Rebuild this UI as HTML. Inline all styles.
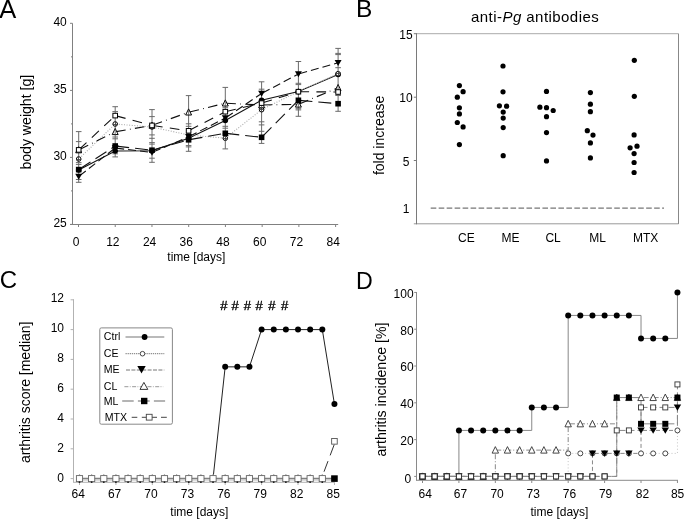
<!DOCTYPE html>
<html><head><meta charset="utf-8"><style>
html,body{margin:0;padding:0;background:#fff;}
svg{display:block;filter:grayscale(1);}
text{font-family:"Liberation Sans", sans-serif;}
</style></head><body>
<svg width="685" height="519" viewBox="0 0 685 519">
<rect width="685" height="519" fill="#fff"/>
<text x="-0.80" y="17.60" font-size="25.5" text-anchor="start" fill="#000">A</text>
<text transform="translate(30.70,122.20) rotate(-90)" font-size="14.1" text-anchor="middle" fill="#000">body weight [g]</text>
<line x1="72.50" y1="23.30" x2="72.50" y2="224.90" stroke="#808080" stroke-width="1"/>
<line x1="70.00" y1="23.30" x2="72.50" y2="23.30" stroke="#808080" stroke-width="1"/>
<text x="66.80" y="25.80" font-size="12" text-anchor="end" fill="#000">40</text>
<line x1="70.00" y1="90.40" x2="72.50" y2="90.40" stroke="#808080" stroke-width="1"/>
<text x="66.80" y="92.90" font-size="12" text-anchor="end" fill="#000">35</text>
<line x1="70.00" y1="157.40" x2="72.50" y2="157.40" stroke="#808080" stroke-width="1"/>
<text x="66.80" y="159.90" font-size="12" text-anchor="end" fill="#000">30</text>
<line x1="70.00" y1="224.40" x2="72.50" y2="224.40" stroke="#808080" stroke-width="1"/>
<text x="66.80" y="226.90" font-size="12" text-anchor="end" fill="#000">25</text>
<line x1="71.00" y1="56.85" x2="72.50" y2="56.85" stroke="#808080" stroke-width="1"/>
<line x1="71.00" y1="123.90" x2="72.50" y2="123.90" stroke="#808080" stroke-width="1"/>
<line x1="71.00" y1="190.90" x2="72.50" y2="190.90" stroke="#808080" stroke-width="1"/>
<line x1="70.00" y1="224.50" x2="338.20" y2="224.50" stroke="#808080" stroke-width="1"/>
<line x1="78.50" y1="224.50" x2="78.50" y2="227.00" stroke="#808080" stroke-width="1"/>
<text x="76.10" y="246.00" font-size="12" text-anchor="middle" fill="#000">0</text>
<line x1="115.23" y1="224.50" x2="115.23" y2="227.00" stroke="#808080" stroke-width="1"/>
<text x="112.83" y="246.00" font-size="12" text-anchor="middle" fill="#000">12</text>
<line x1="151.96" y1="224.50" x2="151.96" y2="227.00" stroke="#808080" stroke-width="1"/>
<text x="149.56" y="246.00" font-size="12" text-anchor="middle" fill="#000">24</text>
<line x1="188.69" y1="224.50" x2="188.69" y2="227.00" stroke="#808080" stroke-width="1"/>
<text x="186.29" y="246.00" font-size="12" text-anchor="middle" fill="#000">36</text>
<line x1="225.42" y1="224.50" x2="225.42" y2="227.00" stroke="#808080" stroke-width="1"/>
<text x="223.02" y="246.00" font-size="12" text-anchor="middle" fill="#000">48</text>
<line x1="262.15" y1="224.50" x2="262.15" y2="227.00" stroke="#808080" stroke-width="1"/>
<text x="259.75" y="246.00" font-size="12" text-anchor="middle" fill="#000">60</text>
<line x1="298.88" y1="224.50" x2="298.88" y2="227.00" stroke="#808080" stroke-width="1"/>
<text x="296.48" y="246.00" font-size="12" text-anchor="middle" fill="#000">72</text>
<line x1="335.61" y1="224.50" x2="335.61" y2="227.00" stroke="#808080" stroke-width="1"/>
<text x="333.21" y="246.00" font-size="12" text-anchor="middle" fill="#000">84</text>
<text x="167.30" y="261.30" font-size="12" text-anchor="start" fill="#000">time [days]</text>
<line x1="78.70" y1="131.60" x2="78.70" y2="182.30" stroke="#6a6a6a" stroke-width="1.0"/>
<line x1="75.90" y1="131.60" x2="81.50" y2="131.60" stroke="#6a6a6a" stroke-width="1.0"/>
<line x1="75.90" y1="141.60" x2="81.50" y2="141.60" stroke="#6a6a6a" stroke-width="1.0"/>
<line x1="75.90" y1="162.60" x2="81.50" y2="162.60" stroke="#6a6a6a" stroke-width="1.0"/>
<line x1="75.90" y1="164.40" x2="81.50" y2="164.40" stroke="#6a6a6a" stroke-width="1.0"/>
<line x1="75.90" y1="179.50" x2="81.50" y2="179.50" stroke="#6a6a6a" stroke-width="1.0"/>
<line x1="75.90" y1="182.30" x2="81.50" y2="182.30" stroke="#6a6a6a" stroke-width="1.0"/>
<line x1="115.20" y1="106.70" x2="115.20" y2="156.90" stroke="#6a6a6a" stroke-width="1.0"/>
<line x1="112.40" y1="106.70" x2="118.00" y2="106.70" stroke="#6a6a6a" stroke-width="1.0"/>
<line x1="112.40" y1="111.60" x2="118.00" y2="111.60" stroke="#6a6a6a" stroke-width="1.0"/>
<line x1="112.40" y1="137.00" x2="118.00" y2="137.00" stroke="#6a6a6a" stroke-width="1.0"/>
<line x1="112.40" y1="138.80" x2="118.00" y2="138.80" stroke="#6a6a6a" stroke-width="1.0"/>
<line x1="112.40" y1="153.80" x2="118.00" y2="153.80" stroke="#6a6a6a" stroke-width="1.0"/>
<line x1="112.40" y1="156.90" x2="118.00" y2="156.90" stroke="#6a6a6a" stroke-width="1.0"/>
<line x1="152.00" y1="109.60" x2="152.00" y2="162.30" stroke="#6a6a6a" stroke-width="1.0"/>
<line x1="149.20" y1="109.60" x2="154.80" y2="109.60" stroke="#6a6a6a" stroke-width="1.0"/>
<line x1="149.20" y1="116.60" x2="154.80" y2="116.60" stroke="#6a6a6a" stroke-width="1.0"/>
<line x1="149.20" y1="134.90" x2="154.80" y2="134.90" stroke="#6a6a6a" stroke-width="1.0"/>
<line x1="149.20" y1="138.30" x2="154.80" y2="138.30" stroke="#6a6a6a" stroke-width="1.0"/>
<line x1="149.20" y1="142.60" x2="154.80" y2="142.60" stroke="#6a6a6a" stroke-width="1.0"/>
<line x1="149.20" y1="144.10" x2="154.80" y2="144.10" stroke="#6a6a6a" stroke-width="1.0"/>
<line x1="149.20" y1="158.20" x2="154.80" y2="158.20" stroke="#6a6a6a" stroke-width="1.0"/>
<line x1="149.20" y1="162.30" x2="154.80" y2="162.30" stroke="#6a6a6a" stroke-width="1.0"/>
<line x1="188.60" y1="95.60" x2="188.60" y2="151.30" stroke="#6a6a6a" stroke-width="1.0"/>
<line x1="185.80" y1="95.60" x2="191.40" y2="95.60" stroke="#6a6a6a" stroke-width="1.0"/>
<line x1="185.80" y1="123.80" x2="191.40" y2="123.80" stroke="#6a6a6a" stroke-width="1.0"/>
<line x1="185.80" y1="126.30" x2="191.40" y2="126.30" stroke="#6a6a6a" stroke-width="1.0"/>
<line x1="185.80" y1="145.60" x2="191.40" y2="145.60" stroke="#6a6a6a" stroke-width="1.0"/>
<line x1="185.80" y1="146.90" x2="191.40" y2="146.90" stroke="#6a6a6a" stroke-width="1.0"/>
<line x1="185.80" y1="151.30" x2="191.40" y2="151.30" stroke="#6a6a6a" stroke-width="1.0"/>
<line x1="225.30" y1="87.40" x2="225.30" y2="148.90" stroke="#6a6a6a" stroke-width="1.0"/>
<line x1="222.50" y1="87.40" x2="228.10" y2="87.40" stroke="#6a6a6a" stroke-width="1.0"/>
<line x1="222.50" y1="107.70" x2="228.10" y2="107.70" stroke="#6a6a6a" stroke-width="1.0"/>
<line x1="222.50" y1="126.30" x2="228.10" y2="126.30" stroke="#6a6a6a" stroke-width="1.0"/>
<line x1="222.50" y1="128.20" x2="228.10" y2="128.20" stroke="#6a6a6a" stroke-width="1.0"/>
<line x1="222.50" y1="133.90" x2="228.10" y2="133.90" stroke="#6a6a6a" stroke-width="1.0"/>
<line x1="222.50" y1="148.90" x2="228.10" y2="148.90" stroke="#6a6a6a" stroke-width="1.0"/>
<line x1="261.60" y1="81.80" x2="261.60" y2="143.40" stroke="#6a6a6a" stroke-width="1.0"/>
<line x1="258.80" y1="81.80" x2="264.40" y2="81.80" stroke="#6a6a6a" stroke-width="1.0"/>
<line x1="258.80" y1="89.20" x2="264.40" y2="89.20" stroke="#6a6a6a" stroke-width="1.0"/>
<line x1="258.80" y1="121.80" x2="264.40" y2="121.80" stroke="#6a6a6a" stroke-width="1.0"/>
<line x1="258.80" y1="124.90" x2="264.40" y2="124.90" stroke="#6a6a6a" stroke-width="1.0"/>
<line x1="258.80" y1="131.30" x2="264.40" y2="131.30" stroke="#6a6a6a" stroke-width="1.0"/>
<line x1="258.80" y1="143.40" x2="264.40" y2="143.40" stroke="#6a6a6a" stroke-width="1.0"/>
<line x1="298.40" y1="61.50" x2="298.40" y2="116.30" stroke="#6a6a6a" stroke-width="1.0"/>
<line x1="295.60" y1="61.50" x2="301.20" y2="61.50" stroke="#6a6a6a" stroke-width="1.0"/>
<line x1="295.60" y1="83.30" x2="301.20" y2="83.30" stroke="#6a6a6a" stroke-width="1.0"/>
<line x1="295.60" y1="84.60" x2="301.20" y2="84.60" stroke="#6a6a6a" stroke-width="1.0"/>
<line x1="295.60" y1="108.70" x2="301.20" y2="108.70" stroke="#6a6a6a" stroke-width="1.0"/>
<line x1="295.60" y1="109.90" x2="301.20" y2="109.90" stroke="#6a6a6a" stroke-width="1.0"/>
<line x1="295.60" y1="116.30" x2="301.20" y2="116.30" stroke="#6a6a6a" stroke-width="1.0"/>
<line x1="338.10" y1="48.40" x2="338.10" y2="111.30" stroke="#6a6a6a" stroke-width="1.0"/>
<line x1="335.30" y1="48.40" x2="340.90" y2="48.40" stroke="#6a6a6a" stroke-width="1.0"/>
<line x1="335.30" y1="53.40" x2="340.90" y2="53.40" stroke="#6a6a6a" stroke-width="1.0"/>
<line x1="335.30" y1="54.60" x2="340.90" y2="54.60" stroke="#6a6a6a" stroke-width="1.0"/>
<line x1="335.30" y1="67.70" x2="340.90" y2="67.70" stroke="#6a6a6a" stroke-width="1.0"/>
<line x1="335.30" y1="95.50" x2="340.90" y2="95.50" stroke="#6a6a6a" stroke-width="1.0"/>
<line x1="335.30" y1="111.30" x2="340.90" y2="111.30" stroke="#6a6a6a" stroke-width="1.0"/>
<polyline points="78.70,170.00 115.20,151.00 152.00,150.80 188.60,138.20 225.30,120.50 261.60,100.20 298.40,91.60 338.10,74.50" fill="none" stroke="#111" stroke-width="1.1"/>
<line x1="78.70" y1="159.00" x2="115.20" y2="124.00" stroke="#aaa" stroke-width="1.1" stroke-dasharray="1,1.6" stroke-dashoffset="-1"/>
<line x1="115.20" y1="124.00" x2="152.00" y2="127.00" stroke="#aaa" stroke-width="1.1" stroke-dasharray="1,1.6" stroke-dashoffset="-1"/>
<line x1="152.00" y1="127.00" x2="188.60" y2="135.00" stroke="#aaa" stroke-width="1.1" stroke-dasharray="1,1.6" stroke-dashoffset="-1"/>
<line x1="188.60" y1="135.00" x2="225.30" y2="138.20" stroke="#aaa" stroke-width="1.1" stroke-dasharray="1,1.6" stroke-dashoffset="-1"/>
<line x1="225.30" y1="138.20" x2="261.60" y2="109.70" stroke="#aaa" stroke-width="1.1" stroke-dasharray="1,1.6" stroke-dashoffset="-1"/>
<line x1="261.60" y1="109.70" x2="298.40" y2="91.50" stroke="#aaa" stroke-width="1.1" stroke-dasharray="1,1.6" stroke-dashoffset="-1"/>
<line x1="298.40" y1="91.50" x2="338.10" y2="73.70" stroke="#aaa" stroke-width="1.1" stroke-dasharray="1,1.6" stroke-dashoffset="-1"/>
<line x1="78.70" y1="176.50" x2="115.20" y2="148.00" stroke="#111" stroke-width="1.1" stroke-dasharray="8,4" stroke-dashoffset="-1"/>
<line x1="115.20" y1="148.00" x2="152.00" y2="152.50" stroke="#111" stroke-width="1.1" stroke-dasharray="8,4" stroke-dashoffset="-1"/>
<line x1="152.00" y1="152.50" x2="188.60" y2="136.80" stroke="#111" stroke-width="1.1" stroke-dasharray="8,4" stroke-dashoffset="-1"/>
<line x1="188.60" y1="136.80" x2="225.30" y2="118.00" stroke="#111" stroke-width="1.1" stroke-dasharray="8,4" stroke-dashoffset="-1"/>
<line x1="225.30" y1="118.00" x2="261.60" y2="93.50" stroke="#111" stroke-width="1.1" stroke-dasharray="8,4" stroke-dashoffset="-1"/>
<line x1="261.60" y1="93.50" x2="298.40" y2="74.00" stroke="#111" stroke-width="1.1" stroke-dasharray="8,4" stroke-dashoffset="-1"/>
<line x1="298.40" y1="74.00" x2="338.10" y2="62.80" stroke="#111" stroke-width="1.1" stroke-dasharray="8,4" stroke-dashoffset="-1"/>
<line x1="78.70" y1="150.00" x2="115.20" y2="131.80" stroke="#111" stroke-width="1.1" stroke-dasharray="9.6,4.3,0.8,4.3" stroke-dashoffset="-1"/>
<line x1="115.20" y1="131.80" x2="152.00" y2="125.40" stroke="#111" stroke-width="1.1" stroke-dasharray="9.6,4.3,0.8,4.3" stroke-dashoffset="-1"/>
<line x1="152.00" y1="125.40" x2="188.60" y2="112.20" stroke="#111" stroke-width="1.1" stroke-dasharray="9.6,4.3,0.8,4.3" stroke-dashoffset="-1"/>
<line x1="188.60" y1="112.20" x2="225.30" y2="103.20" stroke="#111" stroke-width="1.1" stroke-dasharray="9.6,4.3,0.8,4.3" stroke-dashoffset="-1"/>
<line x1="225.30" y1="103.20" x2="261.60" y2="105.00" stroke="#111" stroke-width="1.1" stroke-dasharray="9.6,4.3,0.8,4.3" stroke-dashoffset="-1"/>
<line x1="261.60" y1="105.00" x2="298.40" y2="104.30" stroke="#111" stroke-width="1.1" stroke-dasharray="9.6,4.3,0.8,4.3" stroke-dashoffset="-1"/>
<line x1="298.40" y1="104.30" x2="338.10" y2="87.80" stroke="#111" stroke-width="1.1" stroke-dasharray="9.6,4.3,0.8,4.3" stroke-dashoffset="-1"/>
<line x1="78.70" y1="169.60" x2="115.20" y2="146.00" stroke="#111" stroke-width="1.1" stroke-dasharray="13,6" stroke-dashoffset="-1"/>
<line x1="115.20" y1="146.00" x2="152.00" y2="150.20" stroke="#111" stroke-width="1.1" stroke-dasharray="13,6" stroke-dashoffset="-1"/>
<line x1="152.00" y1="150.20" x2="188.60" y2="139.80" stroke="#111" stroke-width="1.1" stroke-dasharray="13,6" stroke-dashoffset="-1"/>
<line x1="188.60" y1="139.80" x2="225.30" y2="133.30" stroke="#111" stroke-width="1.1" stroke-dasharray="13,6" stroke-dashoffset="-1"/>
<line x1="225.30" y1="133.30" x2="261.60" y2="137.30" stroke="#111" stroke-width="1.1" stroke-dasharray="13,6" stroke-dashoffset="-1"/>
<line x1="261.60" y1="137.30" x2="298.40" y2="100.30" stroke="#111" stroke-width="1.1" stroke-dasharray="13,6" stroke-dashoffset="-1"/>
<line x1="298.40" y1="100.30" x2="338.10" y2="103.70" stroke="#111" stroke-width="1.1" stroke-dasharray="13,6" stroke-dashoffset="-1"/>
<line x1="78.70" y1="149.90" x2="115.20" y2="115.60" stroke="#111" stroke-width="1.1" stroke-dasharray="9.7,7.3" stroke-dashoffset="-1"/>
<line x1="115.20" y1="115.60" x2="152.00" y2="125.40" stroke="#111" stroke-width="1.1" stroke-dasharray="9.7,7.3" stroke-dashoffset="-1"/>
<line x1="152.00" y1="125.40" x2="188.60" y2="130.80" stroke="#111" stroke-width="1.1" stroke-dasharray="9.7,7.3" stroke-dashoffset="-1"/>
<line x1="188.60" y1="130.80" x2="225.30" y2="111.70" stroke="#111" stroke-width="1.1" stroke-dasharray="9.7,7.3" stroke-dashoffset="-1"/>
<line x1="225.30" y1="111.70" x2="261.60" y2="103.10" stroke="#111" stroke-width="1.1" stroke-dasharray="9.7,7.3" stroke-dashoffset="-1"/>
<line x1="261.60" y1="103.10" x2="298.40" y2="91.70" stroke="#111" stroke-width="1.1" stroke-dasharray="9.7,7.3" stroke-dashoffset="-1"/>
<line x1="298.40" y1="91.70" x2="338.10" y2="92.00" stroke="#111" stroke-width="1.1" stroke-dasharray="9.7,7.3" stroke-dashoffset="-1"/>
<circle cx="78.70" cy="170.00" r="2.80" fill="#000"/>
<circle cx="115.20" cy="151.00" r="2.80" fill="#000"/>
<circle cx="152.00" cy="150.80" r="2.80" fill="#000"/>
<circle cx="188.60" cy="138.20" r="2.80" fill="#000"/>
<circle cx="225.30" cy="120.50" r="2.80" fill="#000"/>
<circle cx="261.60" cy="100.20" r="2.80" fill="#000"/>
<circle cx="298.40" cy="91.60" r="2.80" fill="#000"/>
<circle cx="338.10" cy="74.50" r="2.80" fill="#000"/>
<circle cx="78.70" cy="159.00" r="2.30" fill="#fff" stroke="#000" stroke-width="1.0"/>
<line x1="78.50" y1="156.50" x2="78.50" y2="161.50" stroke="#444" stroke-width="0.9"/>
<line x1="76.20" y1="159.50" x2="81.20" y2="159.50" stroke="#444" stroke-width="0.9"/>
<circle cx="115.20" cy="124.00" r="2.30" fill="#fff" stroke="#000" stroke-width="1.0"/>
<line x1="115.50" y1="121.50" x2="115.50" y2="126.50" stroke="#444" stroke-width="0.9"/>
<line x1="112.70" y1="124.50" x2="117.70" y2="124.50" stroke="#444" stroke-width="0.9"/>
<circle cx="152.00" cy="127.00" r="2.30" fill="#fff" stroke="#000" stroke-width="1.0"/>
<line x1="152.50" y1="124.50" x2="152.50" y2="129.50" stroke="#444" stroke-width="0.9"/>
<line x1="149.50" y1="127.50" x2="154.50" y2="127.50" stroke="#444" stroke-width="0.9"/>
<circle cx="188.60" cy="135.00" r="2.30" fill="#fff" stroke="#000" stroke-width="1.0"/>
<line x1="188.50" y1="132.50" x2="188.50" y2="137.50" stroke="#444" stroke-width="0.9"/>
<line x1="186.10" y1="135.50" x2="191.10" y2="135.50" stroke="#444" stroke-width="0.9"/>
<circle cx="225.30" cy="138.20" r="2.30" fill="#fff" stroke="#000" stroke-width="1.0"/>
<line x1="225.50" y1="135.70" x2="225.50" y2="140.70" stroke="#444" stroke-width="0.9"/>
<line x1="222.80" y1="138.50" x2="227.80" y2="138.50" stroke="#444" stroke-width="0.9"/>
<circle cx="261.60" cy="109.70" r="2.30" fill="#fff" stroke="#000" stroke-width="1.0"/>
<line x1="261.50" y1="107.20" x2="261.50" y2="112.20" stroke="#444" stroke-width="0.9"/>
<line x1="259.10" y1="109.50" x2="264.10" y2="109.50" stroke="#444" stroke-width="0.9"/>
<circle cx="298.40" cy="91.50" r="2.30" fill="#fff" stroke="#000" stroke-width="1.0"/>
<line x1="298.50" y1="89.00" x2="298.50" y2="94.00" stroke="#444" stroke-width="0.9"/>
<line x1="295.90" y1="91.50" x2="300.90" y2="91.50" stroke="#444" stroke-width="0.9"/>
<circle cx="338.10" cy="73.70" r="2.30" fill="#fff" stroke="#000" stroke-width="1.0"/>
<line x1="338.50" y1="71.20" x2="338.50" y2="76.20" stroke="#444" stroke-width="0.9"/>
<line x1="335.60" y1="73.50" x2="340.60" y2="73.50" stroke="#444" stroke-width="0.9"/>
<polygon points="75.23,173.70 82.17,173.70 78.70,179.70" fill="#000"/>
<polygon points="111.73,145.20 118.67,145.20 115.20,151.20" fill="#000"/>
<polygon points="148.53,149.70 155.47,149.70 152.00,155.70" fill="#000"/>
<polygon points="185.13,134.00 192.07,134.00 188.60,140.00" fill="#000"/>
<polygon points="221.83,115.20 228.77,115.20 225.30,121.20" fill="#000"/>
<polygon points="258.13,90.70 265.07,90.70 261.60,96.70" fill="#000"/>
<polygon points="294.93,71.20 301.87,71.20 298.40,77.20" fill="#000"/>
<polygon points="334.63,60.00 341.57,60.00 338.10,66.00" fill="#000"/>
<polygon points="75.73,152.80 81.67,152.80 78.70,146.70" fill="#fff" stroke="#000" stroke-width="1.0" stroke-linejoin="miter"/>
<line x1="78.70" y1="147.50" x2="78.70" y2="153.00" stroke="#555" stroke-width="0.8"/>
<polygon points="112.23,134.60 118.17,134.60 115.20,128.50" fill="#fff" stroke="#000" stroke-width="1.0" stroke-linejoin="miter"/>
<line x1="115.20" y1="129.30" x2="115.20" y2="134.80" stroke="#555" stroke-width="0.8"/>
<polygon points="149.03,128.20 154.97,128.20 152.00,122.10" fill="#fff" stroke="#000" stroke-width="1.0" stroke-linejoin="miter"/>
<line x1="152.00" y1="122.90" x2="152.00" y2="128.40" stroke="#555" stroke-width="0.8"/>
<polygon points="185.63,115.00 191.57,115.00 188.60,108.90" fill="#fff" stroke="#000" stroke-width="1.0" stroke-linejoin="miter"/>
<line x1="188.60" y1="109.70" x2="188.60" y2="115.20" stroke="#555" stroke-width="0.8"/>
<polygon points="222.33,106.00 228.27,106.00 225.30,99.90" fill="#fff" stroke="#000" stroke-width="1.0" stroke-linejoin="miter"/>
<line x1="225.30" y1="100.70" x2="225.30" y2="106.20" stroke="#555" stroke-width="0.8"/>
<polygon points="258.63,107.80 264.57,107.80 261.60,101.70" fill="#fff" stroke="#000" stroke-width="1.0" stroke-linejoin="miter"/>
<line x1="261.60" y1="102.50" x2="261.60" y2="108.00" stroke="#555" stroke-width="0.8"/>
<polygon points="295.43,107.10 301.37,107.10 298.40,101.00" fill="#fff" stroke="#000" stroke-width="1.0" stroke-linejoin="miter"/>
<line x1="298.40" y1="101.80" x2="298.40" y2="107.30" stroke="#555" stroke-width="0.8"/>
<polygon points="335.13,90.60 341.07,90.60 338.10,84.50" fill="#fff" stroke="#000" stroke-width="1.0" stroke-linejoin="miter"/>
<line x1="338.10" y1="85.30" x2="338.10" y2="90.80" stroke="#555" stroke-width="0.8"/>
<rect x="75.90" y="166.80" width="5.60" height="5.60" fill="#000"/>
<rect x="112.40" y="143.20" width="5.60" height="5.60" fill="#000"/>
<rect x="149.20" y="147.40" width="5.60" height="5.60" fill="#000"/>
<rect x="185.80" y="137.00" width="5.60" height="5.60" fill="#000"/>
<rect x="222.50" y="130.50" width="5.60" height="5.60" fill="#000"/>
<rect x="258.80" y="134.50" width="5.60" height="5.60" fill="#000"/>
<rect x="295.60" y="97.50" width="5.60" height="5.60" fill="#000"/>
<rect x="335.30" y="100.90" width="5.60" height="5.60" fill="#000"/>
<rect x="76.40" y="147.60" width="4.60" height="4.60" fill="#fff" stroke="#000" stroke-width="1.0"/>
<rect x="112.90" y="113.30" width="4.60" height="4.60" fill="#fff" stroke="#000" stroke-width="1.0"/>
<rect x="149.70" y="123.10" width="4.60" height="4.60" fill="#fff" stroke="#000" stroke-width="1.0"/>
<rect x="186.30" y="128.50" width="4.60" height="4.60" fill="#fff" stroke="#000" stroke-width="1.0"/>
<rect x="223.00" y="109.40" width="4.60" height="4.60" fill="#fff" stroke="#000" stroke-width="1.0"/>
<rect x="259.30" y="100.80" width="4.60" height="4.60" fill="#fff" stroke="#000" stroke-width="1.0"/>
<rect x="296.10" y="89.40" width="4.60" height="4.60" fill="#fff" stroke="#000" stroke-width="1.0"/>
<rect x="335.80" y="89.70" width="4.60" height="4.60" fill="#fff" stroke="#000" stroke-width="1.0"/>
<text x="356.00" y="16.90" font-size="24.5" text-anchor="start" fill="#000">B</text>
<text x="471.00" y="21.90" font-size="15" text-anchor="start" fill="#000" letter-spacing="0.45">anti-<tspan font-style="italic">Pg</tspan> antibodies</text>
<text transform="translate(383.80,135.40) rotate(-90)" font-size="14" text-anchor="middle" fill="#000">fold increase</text>
<line x1="416.50" y1="33.70" x2="678.50" y2="33.70" stroke="#aaa" stroke-width="1"/>
<line x1="678.50" y1="33.70" x2="678.50" y2="224.00" stroke="#888" stroke-width="1"/>
<line x1="413.80" y1="223.80" x2="678.50" y2="223.80" stroke="#999" stroke-width="1"/>
<line x1="416.50" y1="33.20" x2="416.50" y2="224.30" stroke="#7a7a7a" stroke-width="1"/>
<line x1="413.80" y1="33.70" x2="416.50" y2="33.70" stroke="#7a7a7a" stroke-width="1"/>
<text x="406.00" y="38.70" font-size="12" text-anchor="middle" fill="#000">15</text>
<line x1="413.80" y1="97.20" x2="416.50" y2="97.20" stroke="#7a7a7a" stroke-width="1"/>
<text x="406.00" y="102.20" font-size="12" text-anchor="middle" fill="#000">10</text>
<line x1="413.80" y1="160.50" x2="416.50" y2="160.50" stroke="#7a7a7a" stroke-width="1"/>
<text x="406.00" y="165.50" font-size="12" text-anchor="middle" fill="#000">5</text>
<text x="406.00" y="212.60" font-size="12" text-anchor="middle" fill="#000">1</text>
<line x1="430.70" y1="208.20" x2="664.00" y2="208.20" stroke="#777" stroke-width="1.3" stroke-dasharray="5.6,2.38"/>
<circle cx="459.4" cy="85.6" r="2.6" fill="#000"/>
<circle cx="463.1" cy="91.7" r="2.6" fill="#000"/>
<circle cx="457.3" cy="97.2" r="2.6" fill="#000"/>
<circle cx="459.4" cy="107.8" r="2.6" fill="#000"/>
<circle cx="459.4" cy="113.9" r="2.6" fill="#000"/>
<circle cx="457.3" cy="122.5" r="2.6" fill="#000"/>
<circle cx="463.1" cy="126.9" r="2.6" fill="#000"/>
<circle cx="459.4" cy="144.6" r="2.6" fill="#000"/>
<circle cx="503.0" cy="66.0" r="2.6" fill="#000"/>
<circle cx="503.0" cy="91.8" r="2.6" fill="#000"/>
<circle cx="499.4" cy="105.8" r="2.6" fill="#000"/>
<circle cx="506.6" cy="106.2" r="2.6" fill="#000"/>
<circle cx="503.2" cy="112.1" r="2.6" fill="#000"/>
<circle cx="503.2" cy="118.1" r="2.6" fill="#000"/>
<circle cx="503.2" cy="127.6" r="2.6" fill="#000"/>
<circle cx="503.2" cy="155.7" r="2.6" fill="#000"/>
<circle cx="546.5" cy="91.4" r="2.6" fill="#000"/>
<circle cx="539.9" cy="107.2" r="2.6" fill="#000"/>
<circle cx="546.5" cy="107.7" r="2.6" fill="#000"/>
<circle cx="553.2" cy="110.5" r="2.6" fill="#000"/>
<circle cx="546.5" cy="116.7" r="2.6" fill="#000"/>
<circle cx="546.5" cy="132.6" r="2.6" fill="#000"/>
<circle cx="546.5" cy="160.9" r="2.6" fill="#000"/>
<circle cx="590.4" cy="92.6" r="2.6" fill="#000"/>
<circle cx="590.4" cy="104.2" r="2.6" fill="#000"/>
<circle cx="590.4" cy="111.7" r="2.6" fill="#000"/>
<circle cx="587.3" cy="130.7" r="2.6" fill="#000"/>
<circle cx="593.0" cy="135.1" r="2.6" fill="#000"/>
<circle cx="590.4" cy="142.9" r="2.6" fill="#000"/>
<circle cx="590.4" cy="157.9" r="2.6" fill="#000"/>
<circle cx="634.3" cy="60.3" r="2.6" fill="#000"/>
<circle cx="634.3" cy="96.3" r="2.6" fill="#000"/>
<circle cx="634.1" cy="134.9" r="2.6" fill="#000"/>
<circle cx="630.1" cy="147.8" r="2.6" fill="#000"/>
<circle cx="637.0" cy="146.2" r="2.6" fill="#000"/>
<circle cx="634.1" cy="153.6" r="2.6" fill="#000"/>
<circle cx="634.1" cy="162.5" r="2.6" fill="#000"/>
<circle cx="634.1" cy="172.5" r="2.6" fill="#000"/>
<text x="458.00" y="242.40" font-size="12" text-anchor="start" fill="#000">CE</text>
<text x="501.60" y="242.40" font-size="12" text-anchor="start" fill="#000">ME</text>
<text x="545.40" y="242.40" font-size="12" text-anchor="start" fill="#000">CL</text>
<text x="589.20" y="242.40" font-size="12" text-anchor="start" fill="#000">ML</text>
<text x="633.00" y="242.40" font-size="12" text-anchor="start" fill="#000">MTX</text>
<text x="-0.30" y="288.30" font-size="24" text-anchor="start" fill="#000">C</text>
<text transform="translate(29.80,392.30) rotate(-90)" font-size="14.0" text-anchor="middle" fill="#000">arthritis score [median]</text>
<line x1="73.50" y1="299.20" x2="73.50" y2="482.70" stroke="#b2b2b2" stroke-width="1"/>
<line x1="70.60" y1="478.60" x2="73.50" y2="478.60" stroke="#b2b2b2" stroke-width="1"/>
<text x="64.00" y="481.50" font-size="12" text-anchor="end" fill="#000">0</text>
<line x1="70.60" y1="448.80" x2="73.50" y2="448.80" stroke="#b2b2b2" stroke-width="1"/>
<text x="64.00" y="451.60" font-size="12" text-anchor="end" fill="#000">2</text>
<line x1="70.60" y1="419.00" x2="73.50" y2="419.00" stroke="#b2b2b2" stroke-width="1"/>
<text x="64.00" y="421.70" font-size="12" text-anchor="end" fill="#000">4</text>
<line x1="70.60" y1="389.20" x2="73.50" y2="389.20" stroke="#b2b2b2" stroke-width="1"/>
<text x="64.00" y="391.80" font-size="12" text-anchor="end" fill="#000">6</text>
<line x1="70.60" y1="359.40" x2="73.50" y2="359.40" stroke="#b2b2b2" stroke-width="1"/>
<text x="64.00" y="361.90" font-size="12" text-anchor="end" fill="#000">8</text>
<line x1="70.60" y1="329.60" x2="73.50" y2="329.60" stroke="#b2b2b2" stroke-width="1"/>
<text x="64.00" y="332.00" font-size="12" text-anchor="end" fill="#000">10</text>
<line x1="70.60" y1="299.80" x2="73.50" y2="299.80" stroke="#b2b2b2" stroke-width="1"/>
<text x="64.00" y="302.10" font-size="12" text-anchor="end" fill="#000">12</text>
<line x1="73.50" y1="482.30" x2="334.80" y2="482.30" stroke="#b2b2b2" stroke-width="1"/>
<line x1="79.50" y1="482.30" x2="79.50" y2="485.00" stroke="#b2b2b2" stroke-width="1"/>
<text x="78.20" y="497.60" font-size="12" text-anchor="middle" fill="#000">64</text>
<line x1="115.92" y1="482.30" x2="115.92" y2="485.00" stroke="#b2b2b2" stroke-width="1"/>
<text x="114.62" y="497.60" font-size="12" text-anchor="middle" fill="#000">67</text>
<line x1="152.34" y1="482.30" x2="152.34" y2="485.00" stroke="#b2b2b2" stroke-width="1"/>
<text x="151.04" y="497.60" font-size="12" text-anchor="middle" fill="#000">70</text>
<line x1="188.76" y1="482.30" x2="188.76" y2="485.00" stroke="#b2b2b2" stroke-width="1"/>
<text x="187.46" y="497.60" font-size="12" text-anchor="middle" fill="#000">73</text>
<line x1="225.18" y1="482.30" x2="225.18" y2="485.00" stroke="#b2b2b2" stroke-width="1"/>
<text x="223.88" y="497.60" font-size="12" text-anchor="middle" fill="#000">76</text>
<line x1="261.60" y1="482.30" x2="261.60" y2="485.00" stroke="#b2b2b2" stroke-width="1"/>
<text x="260.30" y="497.60" font-size="12" text-anchor="middle" fill="#000">79</text>
<line x1="298.02" y1="482.30" x2="298.02" y2="485.00" stroke="#b2b2b2" stroke-width="1"/>
<text x="296.72" y="497.60" font-size="12" text-anchor="middle" fill="#000">82</text>
<line x1="334.44" y1="482.30" x2="334.44" y2="485.00" stroke="#b2b2b2" stroke-width="1"/>
<text x="333.14" y="497.60" font-size="12" text-anchor="middle" fill="#000">85</text>
<text x="170.30" y="515.60" font-size="12" text-anchor="start" fill="#000">time [days]</text>
<text x="220.30" y="310.30" font-size="13" text-anchor="start" fill="#000" stroke="#000" stroke-width="0.35">#</text>
<text x="231.60" y="310.30" font-size="13" text-anchor="start" fill="#000" stroke="#000" stroke-width="0.35">#</text>
<text x="243.70" y="310.30" font-size="13" text-anchor="start" fill="#000" stroke="#000" stroke-width="0.35">#</text>
<text x="255.40" y="310.30" font-size="13" text-anchor="start" fill="#000" stroke="#000" stroke-width="0.35">#</text>
<text x="268.20" y="310.30" font-size="13" text-anchor="start" fill="#000" stroke="#000" stroke-width="0.35">#</text>
<text x="281.10" y="310.30" font-size="13" text-anchor="start" fill="#000" stroke="#000" stroke-width="0.35">#</text>
<line x1="79.50" y1="478.50" x2="334.44" y2="478.50" stroke="#808080" stroke-width="1.3"/>
<line x1="79.50" y1="480.00" x2="334.44" y2="480.00" stroke="#bbb" stroke-width="1"/>
<polyline points="213.04,478.60 225.18,366.85 237.32,366.85 249.46,366.85 261.60,329.60 273.74,329.60 285.88,329.60 298.02,329.60 310.16,329.60 322.30,329.60 334.44,404.10" fill="none" stroke="#222" stroke-width="1"/>
<circle cx="225.18" cy="366.85" r="3.00" fill="#000"/>
<circle cx="237.32" cy="366.85" r="3.00" fill="#000"/>
<circle cx="249.46" cy="366.85" r="3.00" fill="#000"/>
<circle cx="261.60" cy="329.60" r="3.00" fill="#000"/>
<circle cx="273.74" cy="329.60" r="3.00" fill="#000"/>
<circle cx="285.88" cy="329.60" r="3.00" fill="#000"/>
<circle cx="298.02" cy="329.60" r="3.00" fill="#000"/>
<circle cx="310.16" cy="329.60" r="3.00" fill="#000"/>
<circle cx="322.30" cy="329.60" r="3.00" fill="#000"/>
<circle cx="334.44" cy="404.10" r="3.00" fill="#000"/>
<line x1="334.24" y1="444.55" x2="322.70" y2="475.20" stroke="#333" stroke-width="1" stroke-dasharray="11.6,6.1,11.3,10"/>
<polygon points="76.50,480.50 82.50,480.50 79.50,474.30" fill="#fff" stroke="#999" stroke-width="0.8"/>
<rect x="76.40" y="475.6" width="6.2" height="6.0" fill="#fff" stroke="#666" stroke-width="0.9"/>
<circle cx="79.50" cy="482.20" r="0.9" fill="#222"/>
<polygon points="88.64,480.50 94.64,480.50 91.64,474.30" fill="#fff" stroke="#999" stroke-width="0.8"/>
<rect x="88.54" y="475.6" width="6.2" height="6.0" fill="#fff" stroke="#666" stroke-width="0.9"/>
<circle cx="91.64" cy="482.20" r="0.9" fill="#222"/>
<polygon points="100.78,480.50 106.78,480.50 103.78,474.30" fill="#fff" stroke="#999" stroke-width="0.8"/>
<rect x="100.68" y="475.6" width="6.2" height="6.0" fill="#fff" stroke="#666" stroke-width="0.9"/>
<circle cx="103.78" cy="482.20" r="0.9" fill="#222"/>
<polygon points="112.92,480.50 118.92,480.50 115.92,474.30" fill="#fff" stroke="#999" stroke-width="0.8"/>
<rect x="112.82" y="475.6" width="6.2" height="6.0" fill="#fff" stroke="#666" stroke-width="0.9"/>
<circle cx="115.92" cy="482.20" r="0.9" fill="#222"/>
<polygon points="125.06,480.50 131.06,480.50 128.06,474.30" fill="#fff" stroke="#999" stroke-width="0.8"/>
<rect x="124.96" y="475.6" width="6.2" height="6.0" fill="#fff" stroke="#666" stroke-width="0.9"/>
<circle cx="128.06" cy="482.20" r="0.9" fill="#222"/>
<polygon points="137.20,480.50 143.20,480.50 140.20,474.30" fill="#fff" stroke="#999" stroke-width="0.8"/>
<rect x="137.10" y="475.6" width="6.2" height="6.0" fill="#fff" stroke="#666" stroke-width="0.9"/>
<circle cx="140.20" cy="482.20" r="0.9" fill="#222"/>
<polygon points="149.34,480.50 155.34,480.50 152.34,474.30" fill="#fff" stroke="#999" stroke-width="0.8"/>
<rect x="149.24" y="475.6" width="6.2" height="6.0" fill="#fff" stroke="#666" stroke-width="0.9"/>
<circle cx="152.34" cy="482.20" r="0.9" fill="#222"/>
<polygon points="161.48,480.50 167.48,480.50 164.48,474.30" fill="#fff" stroke="#999" stroke-width="0.8"/>
<rect x="161.38" y="475.6" width="6.2" height="6.0" fill="#fff" stroke="#666" stroke-width="0.9"/>
<circle cx="164.48" cy="482.20" r="0.9" fill="#222"/>
<polygon points="173.62,480.50 179.62,480.50 176.62,474.30" fill="#fff" stroke="#999" stroke-width="0.8"/>
<rect x="173.52" y="475.6" width="6.2" height="6.0" fill="#fff" stroke="#666" stroke-width="0.9"/>
<circle cx="176.62" cy="482.20" r="0.9" fill="#222"/>
<polygon points="185.76,480.50 191.76,480.50 188.76,474.30" fill="#fff" stroke="#999" stroke-width="0.8"/>
<rect x="185.66" y="475.6" width="6.2" height="6.0" fill="#fff" stroke="#666" stroke-width="0.9"/>
<circle cx="188.76" cy="482.20" r="0.9" fill="#222"/>
<polygon points="197.90,480.50 203.90,480.50 200.90,474.30" fill="#fff" stroke="#999" stroke-width="0.8"/>
<rect x="197.80" y="475.6" width="6.2" height="6.0" fill="#fff" stroke="#666" stroke-width="0.9"/>
<circle cx="200.90" cy="482.20" r="0.9" fill="#222"/>
<polygon points="210.04,480.50 216.04,480.50 213.04,474.30" fill="#fff" stroke="#999" stroke-width="0.8"/>
<rect x="209.94" y="475.6" width="6.2" height="6.0" fill="#fff" stroke="#666" stroke-width="0.9"/>
<circle cx="213.04" cy="482.20" r="0.9" fill="#222"/>
<polygon points="222.18,480.50 228.18,480.50 225.18,474.30" fill="#fff" stroke="#999" stroke-width="0.8"/>
<rect x="222.08" y="475.6" width="6.2" height="6.0" fill="#fff" stroke="#666" stroke-width="0.9"/>
<circle cx="225.18" cy="482.20" r="0.9" fill="#222"/>
<polygon points="234.32,480.50 240.32,480.50 237.32,474.30" fill="#fff" stroke="#999" stroke-width="0.8"/>
<rect x="234.22" y="475.6" width="6.2" height="6.0" fill="#fff" stroke="#666" stroke-width="0.9"/>
<circle cx="237.32" cy="482.20" r="0.9" fill="#222"/>
<polygon points="246.46,480.50 252.46,480.50 249.46,474.30" fill="#fff" stroke="#999" stroke-width="0.8"/>
<rect x="246.36" y="475.6" width="6.2" height="6.0" fill="#fff" stroke="#666" stroke-width="0.9"/>
<circle cx="249.46" cy="482.20" r="0.9" fill="#222"/>
<polygon points="258.60,480.50 264.60,480.50 261.60,474.30" fill="#fff" stroke="#999" stroke-width="0.8"/>
<rect x="258.50" y="475.6" width="6.2" height="6.0" fill="#fff" stroke="#666" stroke-width="0.9"/>
<circle cx="261.60" cy="482.20" r="0.9" fill="#222"/>
<polygon points="270.74,480.50 276.74,480.50 273.74,474.30" fill="#fff" stroke="#999" stroke-width="0.8"/>
<rect x="270.64" y="475.6" width="6.2" height="6.0" fill="#fff" stroke="#666" stroke-width="0.9"/>
<circle cx="273.74" cy="482.20" r="0.9" fill="#222"/>
<polygon points="282.88,480.50 288.88,480.50 285.88,474.30" fill="#fff" stroke="#999" stroke-width="0.8"/>
<rect x="282.78" y="475.6" width="6.2" height="6.0" fill="#fff" stroke="#666" stroke-width="0.9"/>
<circle cx="285.88" cy="482.20" r="0.9" fill="#222"/>
<polygon points="295.02,480.50 301.02,480.50 298.02,474.30" fill="#fff" stroke="#999" stroke-width="0.8"/>
<rect x="294.92" y="475.6" width="6.2" height="6.0" fill="#fff" stroke="#666" stroke-width="0.9"/>
<circle cx="298.02" cy="482.20" r="0.9" fill="#222"/>
<polygon points="307.16,480.50 313.16,480.50 310.16,474.30" fill="#fff" stroke="#999" stroke-width="0.8"/>
<rect x="307.06" y="475.6" width="6.2" height="6.0" fill="#fff" stroke="#666" stroke-width="0.9"/>
<circle cx="310.16" cy="482.20" r="0.9" fill="#222"/>
<polygon points="319.30,480.50 325.30,480.50 322.30,474.30" fill="#fff" stroke="#999" stroke-width="0.8"/>
<rect x="319.20" y="475.6" width="6.2" height="6.0" fill="#fff" stroke="#666" stroke-width="0.9"/>
<circle cx="322.30" cy="482.20" r="0.9" fill="#222"/>
<rect x="331.14" y="475.30" width="6.60" height="6.60" fill="#000"/>
<rect x="331.64" y="438.55" width="5.60" height="5.60" fill="#fff" stroke="#555" stroke-width="0.9"/>
<rect x="99.8" y="327.9" width="72.6" height="96.3" rx="1.5" fill="#fff" stroke="#888" stroke-width="1"/>
<text x="103.80" y="340.40" font-size="10.6" text-anchor="start" fill="#000">Ctrl</text>
<line x1="125.50" y1="337.00" x2="164.30" y2="337.00" stroke="#777" stroke-width="1.1"/>
<circle cx="144.60" cy="337.00" r="2.90" fill="#000"/>
<text x="103.80" y="357.00" font-size="10.6" text-anchor="start" fill="#000">CE</text>
<line x1="125.50" y1="353.70" x2="164.30" y2="353.70" stroke="#777" stroke-width="1.0" stroke-dasharray="1.3,0.8"/>
<circle cx="142.50" cy="353.70" r="2.30" fill="#fff" stroke="#333" stroke-width="0.9"/>
<text x="103.80" y="373.40" font-size="10.6" text-anchor="start" fill="#000">ME</text>
<line x1="126.00" y1="370.00" x2="164.30" y2="370.00" stroke="#777" stroke-width="1.0" stroke-dasharray="4,1.4"/>
<polygon points="137.3,366.0 145.7,366.0 141.5,373.5" fill="#000"/>
<text x="103.80" y="390.40" font-size="10.6" text-anchor="start" fill="#000">CL</text>
<line x1="124.40" y1="386.70" x2="163.20" y2="386.70" stroke="#999" stroke-width="1.0" stroke-dasharray="4,1.4,0.8,1.5"/>
<polygon points="140.0,389.4 147.8,389.4 143.9,382.4" fill="#fff" stroke="#222" stroke-width="0.9"/>
<text x="103.80" y="404.80" font-size="10.6" text-anchor="start" fill="#000">ML</text>
<line x1="122.20" y1="401.00" x2="133.70" y2="401.00" stroke="#777" stroke-width="1.1"/>
<line x1="137.90" y1="401.00" x2="149.70" y2="401.00" stroke="#777" stroke-width="1.1"/>
<line x1="153.90" y1="401.00" x2="165.10" y2="401.00" stroke="#777" stroke-width="1.1"/>
<rect x="141.0" y="397.8" width="6.4" height="6.4" fill="#000"/>
<text x="104.80" y="420.90" font-size="10.6" text-anchor="start" fill="#000">MTX</text>
<line x1="131.70" y1="417.30" x2="137.30" y2="417.30" stroke="#444" stroke-width="1.0"/>
<line x1="141.80" y1="417.30" x2="157.00" y2="417.30" stroke="#444" stroke-width="1.0"/>
<line x1="161.00" y1="417.30" x2="166.80" y2="417.30" stroke="#444" stroke-width="1.0"/>
<rect x="146.3" y="414.3" width="5.8" height="5.8" fill="#fff" stroke="#444" stroke-width="0.9"/>
<text x="355.90" y="288.60" font-size="23.2" text-anchor="start" fill="#000">D</text>
<text transform="translate(385.60,389.60) rotate(-90)" font-size="14.1" text-anchor="middle" fill="#000">arthritis incidence [%]</text>
<line x1="416.50" y1="292.00" x2="416.50" y2="480.80" stroke="#8a8a8a" stroke-width="1"/>
<line x1="414.20" y1="476.40" x2="416.50" y2="476.40" stroke="#8a8a8a" stroke-width="1"/>
<text x="411.20" y="483.40" font-size="12" text-anchor="end" fill="#000">0</text>
<line x1="414.20" y1="439.61" x2="416.50" y2="439.61" stroke="#8a8a8a" stroke-width="1"/>
<text x="413.60" y="445.01" font-size="12" text-anchor="end" fill="#000">20</text>
<line x1="414.20" y1="402.82" x2="416.50" y2="402.82" stroke="#8a8a8a" stroke-width="1"/>
<text x="413.60" y="408.22" font-size="12" text-anchor="end" fill="#000">40</text>
<line x1="414.20" y1="366.02" x2="416.50" y2="366.02" stroke="#8a8a8a" stroke-width="1"/>
<text x="413.60" y="371.42" font-size="12" text-anchor="end" fill="#000">60</text>
<line x1="414.20" y1="329.23" x2="416.50" y2="329.23" stroke="#8a8a8a" stroke-width="1"/>
<text x="413.60" y="334.63" font-size="12" text-anchor="end" fill="#000">80</text>
<line x1="414.20" y1="292.44" x2="416.50" y2="292.44" stroke="#8a8a8a" stroke-width="1"/>
<text x="413.60" y="297.84" font-size="12" text-anchor="end" fill="#000">100</text>
<line x1="416.50" y1="480.30" x2="678.00" y2="480.30" stroke="#8a8a8a" stroke-width="1"/>
<line x1="422.50" y1="480.30" x2="422.50" y2="483.00" stroke="#8a8a8a" stroke-width="1"/>
<text x="425.20" y="497.80" font-size="12" text-anchor="middle" fill="#000">64</text>
<line x1="458.92" y1="480.30" x2="458.92" y2="483.00" stroke="#8a8a8a" stroke-width="1"/>
<text x="460.40" y="497.80" font-size="12" text-anchor="middle" fill="#000">67</text>
<line x1="495.34" y1="480.30" x2="495.34" y2="483.00" stroke="#8a8a8a" stroke-width="1"/>
<text x="497.10" y="497.80" font-size="12" text-anchor="middle" fill="#000">70</text>
<line x1="531.76" y1="480.30" x2="531.76" y2="483.00" stroke="#8a8a8a" stroke-width="1"/>
<text x="533.30" y="497.80" font-size="12" text-anchor="middle" fill="#000">73</text>
<line x1="568.18" y1="480.30" x2="568.18" y2="483.00" stroke="#8a8a8a" stroke-width="1"/>
<text x="569.50" y="497.80" font-size="12" text-anchor="middle" fill="#000">76</text>
<line x1="604.60" y1="480.30" x2="604.60" y2="483.00" stroke="#8a8a8a" stroke-width="1"/>
<text x="605.60" y="497.80" font-size="12" text-anchor="middle" fill="#000">79</text>
<line x1="641.02" y1="480.30" x2="641.02" y2="483.00" stroke="#8a8a8a" stroke-width="1"/>
<text x="642.40" y="497.80" font-size="12" text-anchor="middle" fill="#000">82</text>
<line x1="677.44" y1="480.30" x2="677.44" y2="483.00" stroke="#8a8a8a" stroke-width="1"/>
<text x="677.60" y="497.80" font-size="12" text-anchor="middle" fill="#000">85</text>
<text x="530.40" y="515.90" font-size="12" text-anchor="start" fill="#000">time [days]</text>
<polyline points="422.50,476.40 434.64,476.40 434.64,476.40 446.78,476.40 446.78,476.40 458.92,476.40 458.92,430.41 471.06,430.41 471.06,430.41 483.20,430.41 483.20,430.41 495.34,430.41 495.34,430.41 507.48,430.41 507.48,430.41 519.62,430.41 519.62,430.41 531.76,430.41 531.76,407.41 543.90,407.41 543.90,407.41 556.04,407.41 556.04,407.41 568.18,407.41 568.18,315.43 580.32,315.43 580.32,315.43 592.46,315.43 592.46,315.43 604.60,315.43 604.60,315.43 616.74,315.43 616.74,315.43 628.88,315.43 628.88,315.43 641.02,315.43 641.02,338.43 653.16,338.43 653.16,338.43 665.30,338.43 665.30,338.43 677.44,338.43 677.44,292.44" fill="none" stroke="#888" stroke-width="1"/>
<polyline points="422.50,476.40 434.64,476.40 434.64,476.40 446.78,476.40 446.78,476.40 458.92,476.40 458.92,476.40 471.06,476.40 471.06,476.40 483.20,476.40 483.20,476.40 495.34,476.40 495.34,476.40 507.48,476.40 507.48,476.40 519.62,476.40 519.62,476.40 531.76,476.40 531.76,476.40 543.90,476.40 543.90,476.40 556.04,476.40 556.04,476.40 568.18,476.40 568.18,453.40 580.32,453.40 580.32,453.40 592.46,453.40 592.46,453.40 604.60,453.40 604.60,453.40 616.74,453.40 616.74,453.40 628.88,453.40 628.88,453.40 641.02,453.40 641.02,453.40 653.16,453.40 653.16,453.40 665.30,453.40 665.30,453.40 677.44,453.40 677.44,430.41" fill="none" stroke="#c4c4c4" stroke-width="1" stroke-dasharray="1,2.2"/>
<polyline points="422.50,476.40 434.64,476.40 434.64,476.40 446.78,476.40 446.78,476.40 458.92,476.40 458.92,476.40 471.06,476.40 471.06,476.40 483.20,476.40 483.20,476.40 495.34,476.40 495.34,476.40 507.48,476.40 507.48,476.40 519.62,476.40 519.62,476.40 531.76,476.40 531.76,476.40 543.90,476.40 543.90,476.40 556.04,476.40 556.04,476.40 568.18,476.40 568.18,476.40 580.32,476.40 580.32,476.40 592.46,476.40 592.46,453.40 604.60,453.40 604.60,453.40 616.74,453.40 616.74,453.40 628.88,453.40 628.88,453.40 641.02,453.40 641.02,430.41 653.16,430.41 653.16,430.41 665.30,430.41 665.30,430.41 677.44,430.41 677.44,407.41" fill="none" stroke="#888" stroke-width="1" stroke-dasharray="4,2.5"/>
<polyline points="422.50,476.40 434.64,476.40 434.64,476.40 446.78,476.40 446.78,476.40 458.92,476.40 458.92,476.40 471.06,476.40 471.06,476.40 483.20,476.40 483.20,476.40 495.34,476.40 495.34,450.12 507.48,450.12 507.48,450.12 519.62,450.12 519.62,450.12 531.76,450.12 531.76,450.12 543.90,450.12 543.90,450.12 556.04,450.12 556.04,450.12 568.18,450.12 568.18,423.84 580.32,423.84 580.32,423.84 592.46,423.84 592.46,423.84 604.60,423.84 604.60,423.84 616.74,423.84 616.74,397.56 628.88,397.56 628.88,397.56 641.02,397.56 641.02,397.56 653.16,397.56 653.16,397.56 665.30,397.56 665.30,397.56 677.44,397.56 677.44,397.56" fill="none" stroke="#888" stroke-width="1" stroke-dasharray="5,2,1,2"/>
<polyline points="422.50,476.40 434.64,476.40 434.64,476.40 446.78,476.40 446.78,476.40 458.92,476.40 458.92,476.40 471.06,476.40 471.06,476.40 483.20,476.40 483.20,476.40 495.34,476.40 495.34,476.40 507.48,476.40 507.48,476.40 519.62,476.40 519.62,476.40 531.76,476.40 531.76,476.40 543.90,476.40 543.90,476.40 556.04,476.40 556.04,476.40 568.18,476.40 568.18,476.40 580.32,476.40 580.32,476.40 592.46,476.40 592.46,476.40 604.60,476.40 604.60,476.40 616.74,476.40 616.74,397.56 628.88,397.56 628.88,397.56 641.02,397.56 641.02,423.84 653.16,423.84 653.16,423.84 665.30,423.84 665.30,423.84 677.44,423.84 677.44,397.56" fill="none" stroke="#888" stroke-width="1" stroke-dasharray="9,3"/>
<polyline points="422.50,476.40 434.64,476.40 434.64,476.40 446.78,476.40 446.78,476.40 458.92,476.40 458.92,476.40 471.06,476.40 471.06,476.40 483.20,476.40 483.20,476.40 495.34,476.40 495.34,476.40 507.48,476.40 507.48,476.40 519.62,476.40 519.62,476.40 531.76,476.40 531.76,476.40 543.90,476.40 543.90,476.40 556.04,476.40 556.04,476.40 568.18,476.40 568.18,476.40 580.32,476.40 580.32,476.40 592.46,476.40 592.46,476.40 604.60,476.40 604.60,476.40 616.74,476.40 616.74,430.41 628.88,430.41 628.88,430.41 641.02,430.41 641.02,407.41 653.16,407.41 653.16,407.41 665.30,407.41 665.30,407.41 677.44,407.41 677.44,384.42" fill="none" stroke="#888" stroke-width="1" stroke-dasharray="6,3"/>
<circle cx="422.50" cy="476.40" r="3.00" fill="#000"/>
<circle cx="434.64" cy="476.40" r="3.00" fill="#000"/>
<circle cx="446.78" cy="476.40" r="3.00" fill="#000"/>
<circle cx="458.92" cy="430.41" r="3.00" fill="#000"/>
<circle cx="471.06" cy="430.41" r="3.00" fill="#000"/>
<circle cx="483.20" cy="430.41" r="3.00" fill="#000"/>
<circle cx="495.34" cy="430.41" r="3.00" fill="#000"/>
<circle cx="507.48" cy="430.41" r="3.00" fill="#000"/>
<circle cx="519.62" cy="430.41" r="3.00" fill="#000"/>
<circle cx="531.76" cy="407.41" r="3.00" fill="#000"/>
<circle cx="543.90" cy="407.41" r="3.00" fill="#000"/>
<circle cx="556.04" cy="407.41" r="3.00" fill="#000"/>
<circle cx="568.18" cy="315.43" r="3.00" fill="#000"/>
<circle cx="580.32" cy="315.43" r="3.00" fill="#000"/>
<circle cx="592.46" cy="315.43" r="3.00" fill="#000"/>
<circle cx="604.60" cy="315.43" r="3.00" fill="#000"/>
<circle cx="616.74" cy="315.43" r="3.00" fill="#000"/>
<circle cx="628.88" cy="315.43" r="3.00" fill="#000"/>
<circle cx="641.02" cy="338.43" r="3.00" fill="#000"/>
<circle cx="653.16" cy="338.43" r="3.00" fill="#000"/>
<circle cx="665.30" cy="338.43" r="3.00" fill="#000"/>
<circle cx="677.44" cy="292.44" r="3.00" fill="#000"/>
<circle cx="422.50" cy="476.40" r="2.50" fill="#fff" stroke="#333" stroke-width="0.9"/>
<circle cx="434.64" cy="476.40" r="2.50" fill="#fff" stroke="#333" stroke-width="0.9"/>
<circle cx="446.78" cy="476.40" r="2.50" fill="#fff" stroke="#333" stroke-width="0.9"/>
<circle cx="458.92" cy="476.40" r="2.50" fill="#fff" stroke="#333" stroke-width="0.9"/>
<circle cx="471.06" cy="476.40" r="2.50" fill="#fff" stroke="#333" stroke-width="0.9"/>
<circle cx="483.20" cy="476.40" r="2.50" fill="#fff" stroke="#333" stroke-width="0.9"/>
<circle cx="495.34" cy="476.40" r="2.50" fill="#fff" stroke="#333" stroke-width="0.9"/>
<circle cx="507.48" cy="476.40" r="2.50" fill="#fff" stroke="#333" stroke-width="0.9"/>
<circle cx="519.62" cy="476.40" r="2.50" fill="#fff" stroke="#333" stroke-width="0.9"/>
<circle cx="531.76" cy="476.40" r="2.50" fill="#fff" stroke="#333" stroke-width="0.9"/>
<circle cx="543.90" cy="476.40" r="2.50" fill="#fff" stroke="#333" stroke-width="0.9"/>
<circle cx="556.04" cy="476.40" r="2.50" fill="#fff" stroke="#333" stroke-width="0.9"/>
<circle cx="568.18" cy="453.40" r="2.50" fill="#fff" stroke="#333" stroke-width="0.9"/>
<circle cx="580.32" cy="453.40" r="2.50" fill="#fff" stroke="#333" stroke-width="0.9"/>
<circle cx="592.46" cy="453.40" r="2.50" fill="#fff" stroke="#333" stroke-width="0.9"/>
<circle cx="604.60" cy="453.40" r="2.50" fill="#fff" stroke="#333" stroke-width="0.9"/>
<circle cx="616.74" cy="453.40" r="2.50" fill="#fff" stroke="#333" stroke-width="0.9"/>
<circle cx="628.88" cy="453.40" r="2.50" fill="#fff" stroke="#333" stroke-width="0.9"/>
<circle cx="641.02" cy="453.40" r="2.50" fill="#fff" stroke="#333" stroke-width="0.9"/>
<circle cx="653.16" cy="453.40" r="2.50" fill="#fff" stroke="#333" stroke-width="0.9"/>
<circle cx="665.30" cy="453.40" r="2.50" fill="#fff" stroke="#333" stroke-width="0.9"/>
<circle cx="677.44" cy="430.41" r="2.50" fill="#fff" stroke="#333" stroke-width="0.9"/>
<polygon points="418.78,473.40 426.22,473.40 422.50,479.80" fill="#000"/>
<polygon points="430.92,473.40 438.36,473.40 434.64,479.80" fill="#000"/>
<polygon points="443.06,473.40 450.50,473.40 446.78,479.80" fill="#000"/>
<polygon points="455.20,473.40 462.64,473.40 458.92,479.80" fill="#000"/>
<polygon points="467.34,473.40 474.78,473.40 471.06,479.80" fill="#000"/>
<polygon points="479.48,473.40 486.92,473.40 483.20,479.80" fill="#000"/>
<polygon points="491.62,473.40 499.06,473.40 495.34,479.80" fill="#000"/>
<polygon points="503.76,473.40 511.20,473.40 507.48,479.80" fill="#000"/>
<polygon points="515.90,473.40 523.34,473.40 519.62,479.80" fill="#000"/>
<polygon points="528.04,473.40 535.48,473.40 531.76,479.80" fill="#000"/>
<polygon points="540.18,473.40 547.62,473.40 543.90,479.80" fill="#000"/>
<polygon points="552.32,473.40 559.76,473.40 556.04,479.80" fill="#000"/>
<polygon points="564.46,473.40 571.90,473.40 568.18,479.80" fill="#000"/>
<polygon points="576.60,473.40 584.04,473.40 580.32,479.80" fill="#000"/>
<polygon points="588.74,450.40 596.18,450.40 592.46,456.80" fill="#000"/>
<polygon points="600.88,450.40 608.32,450.40 604.60,456.80" fill="#000"/>
<polygon points="613.02,450.40 620.46,450.40 616.74,456.80" fill="#000"/>
<polygon points="625.16,450.40 632.60,450.40 628.88,456.80" fill="#000"/>
<polygon points="637.30,427.41 644.74,427.41 641.02,433.81" fill="#000"/>
<polygon points="649.44,427.41 656.88,427.41 653.16,433.81" fill="#000"/>
<polygon points="661.58,427.41 669.02,427.41 665.30,433.81" fill="#000"/>
<polygon points="673.72,404.41 681.16,404.41 677.44,410.81" fill="#000"/>
<polygon points="419.28,479.40 425.72,479.40 422.50,472.90" fill="#fff" stroke="#333" stroke-width="0.9" stroke-linejoin="miter"/>
<polygon points="431.42,479.40 437.86,479.40 434.64,472.90" fill="#fff" stroke="#333" stroke-width="0.9" stroke-linejoin="miter"/>
<polygon points="443.56,479.40 450.00,479.40 446.78,472.90" fill="#fff" stroke="#333" stroke-width="0.9" stroke-linejoin="miter"/>
<polygon points="455.70,479.40 462.14,479.40 458.92,472.90" fill="#fff" stroke="#333" stroke-width="0.9" stroke-linejoin="miter"/>
<polygon points="467.84,479.40 474.28,479.40 471.06,472.90" fill="#fff" stroke="#333" stroke-width="0.9" stroke-linejoin="miter"/>
<polygon points="479.98,479.40 486.42,479.40 483.20,472.90" fill="#fff" stroke="#333" stroke-width="0.9" stroke-linejoin="miter"/>
<polygon points="492.12,453.12 498.56,453.12 495.34,446.62" fill="#fff" stroke="#333" stroke-width="0.9" stroke-linejoin="miter"/>
<polygon points="504.26,453.12 510.70,453.12 507.48,446.62" fill="#fff" stroke="#333" stroke-width="0.9" stroke-linejoin="miter"/>
<polygon points="516.40,453.12 522.84,453.12 519.62,446.62" fill="#fff" stroke="#333" stroke-width="0.9" stroke-linejoin="miter"/>
<polygon points="528.54,453.12 534.98,453.12 531.76,446.62" fill="#fff" stroke="#333" stroke-width="0.9" stroke-linejoin="miter"/>
<polygon points="540.68,453.12 547.12,453.12 543.90,446.62" fill="#fff" stroke="#333" stroke-width="0.9" stroke-linejoin="miter"/>
<polygon points="552.82,453.12 559.26,453.12 556.04,446.62" fill="#fff" stroke="#333" stroke-width="0.9" stroke-linejoin="miter"/>
<polygon points="564.96,426.84 571.40,426.84 568.18,420.34" fill="#fff" stroke="#333" stroke-width="0.9" stroke-linejoin="miter"/>
<polygon points="577.10,426.84 583.54,426.84 580.32,420.34" fill="#fff" stroke="#333" stroke-width="0.9" stroke-linejoin="miter"/>
<polygon points="589.24,426.84 595.68,426.84 592.46,420.34" fill="#fff" stroke="#333" stroke-width="0.9" stroke-linejoin="miter"/>
<polygon points="601.38,426.84 607.82,426.84 604.60,420.34" fill="#fff" stroke="#333" stroke-width="0.9" stroke-linejoin="miter"/>
<polygon points="613.52,400.56 619.96,400.56 616.74,394.06" fill="#fff" stroke="#333" stroke-width="0.9" stroke-linejoin="miter"/>
<polygon points="625.66,400.56 632.10,400.56 628.88,394.06" fill="#fff" stroke="#333" stroke-width="0.9" stroke-linejoin="miter"/>
<polygon points="637.80,400.56 644.24,400.56 641.02,394.06" fill="#fff" stroke="#333" stroke-width="0.9" stroke-linejoin="miter"/>
<polygon points="649.94,400.56 656.38,400.56 653.16,394.06" fill="#fff" stroke="#333" stroke-width="0.9" stroke-linejoin="miter"/>
<polygon points="662.08,400.56 668.52,400.56 665.30,394.06" fill="#fff" stroke="#333" stroke-width="0.9" stroke-linejoin="miter"/>
<polygon points="674.22,400.56 680.66,400.56 677.44,394.06" fill="#fff" stroke="#333" stroke-width="0.9" stroke-linejoin="miter"/>
<rect x="419.50" y="473.40" width="6.00" height="6.00" fill="#000"/>
<rect x="431.64" y="473.40" width="6.00" height="6.00" fill="#000"/>
<rect x="443.78" y="473.40" width="6.00" height="6.00" fill="#000"/>
<rect x="455.92" y="473.40" width="6.00" height="6.00" fill="#000"/>
<rect x="468.06" y="473.40" width="6.00" height="6.00" fill="#000"/>
<rect x="480.20" y="473.40" width="6.00" height="6.00" fill="#000"/>
<rect x="492.34" y="473.40" width="6.00" height="6.00" fill="#000"/>
<rect x="504.48" y="473.40" width="6.00" height="6.00" fill="#000"/>
<rect x="516.62" y="473.40" width="6.00" height="6.00" fill="#000"/>
<rect x="528.76" y="473.40" width="6.00" height="6.00" fill="#000"/>
<rect x="540.90" y="473.40" width="6.00" height="6.00" fill="#000"/>
<rect x="553.04" y="473.40" width="6.00" height="6.00" fill="#000"/>
<rect x="565.18" y="473.40" width="6.00" height="6.00" fill="#000"/>
<rect x="577.32" y="473.40" width="6.00" height="6.00" fill="#000"/>
<rect x="589.46" y="473.40" width="6.00" height="6.00" fill="#000"/>
<rect x="601.60" y="473.40" width="6.00" height="6.00" fill="#000"/>
<rect x="613.74" y="394.56" width="6.00" height="6.00" fill="#000"/>
<rect x="625.88" y="394.56" width="6.00" height="6.00" fill="#000"/>
<rect x="638.02" y="420.84" width="6.00" height="6.00" fill="#000"/>
<rect x="650.16" y="420.84" width="6.00" height="6.00" fill="#000"/>
<rect x="662.30" y="420.84" width="6.00" height="6.00" fill="#000"/>
<rect x="674.44" y="394.56" width="6.00" height="6.00" fill="#000"/>
<rect x="420.00" y="473.90" width="5.00" height="5.00" fill="#fff" stroke="#333" stroke-width="0.9"/>
<rect x="432.14" y="473.90" width="5.00" height="5.00" fill="#fff" stroke="#333" stroke-width="0.9"/>
<rect x="444.28" y="473.90" width="5.00" height="5.00" fill="#fff" stroke="#333" stroke-width="0.9"/>
<rect x="456.42" y="473.90" width="5.00" height="5.00" fill="#fff" stroke="#333" stroke-width="0.9"/>
<rect x="468.56" y="473.90" width="5.00" height="5.00" fill="#fff" stroke="#333" stroke-width="0.9"/>
<rect x="480.70" y="473.90" width="5.00" height="5.00" fill="#fff" stroke="#333" stroke-width="0.9"/>
<rect x="492.84" y="473.90" width="5.00" height="5.00" fill="#fff" stroke="#333" stroke-width="0.9"/>
<rect x="504.98" y="473.90" width="5.00" height="5.00" fill="#fff" stroke="#333" stroke-width="0.9"/>
<rect x="517.12" y="473.90" width="5.00" height="5.00" fill="#fff" stroke="#333" stroke-width="0.9"/>
<rect x="529.26" y="473.90" width="5.00" height="5.00" fill="#fff" stroke="#333" stroke-width="0.9"/>
<rect x="541.40" y="473.90" width="5.00" height="5.00" fill="#fff" stroke="#333" stroke-width="0.9"/>
<rect x="553.54" y="473.90" width="5.00" height="5.00" fill="#fff" stroke="#333" stroke-width="0.9"/>
<rect x="565.68" y="473.90" width="5.00" height="5.00" fill="#fff" stroke="#333" stroke-width="0.9"/>
<rect x="577.82" y="473.90" width="5.00" height="5.00" fill="#fff" stroke="#333" stroke-width="0.9"/>
<rect x="589.96" y="473.90" width="5.00" height="5.00" fill="#fff" stroke="#333" stroke-width="0.9"/>
<rect x="602.10" y="473.90" width="5.00" height="5.00" fill="#fff" stroke="#333" stroke-width="0.9"/>
<rect x="614.24" y="427.91" width="5.00" height="5.00" fill="#fff" stroke="#333" stroke-width="0.9"/>
<rect x="626.38" y="427.91" width="5.00" height="5.00" fill="#fff" stroke="#333" stroke-width="0.9"/>
<rect x="638.52" y="404.91" width="5.00" height="5.00" fill="#fff" stroke="#333" stroke-width="0.9"/>
<rect x="650.66" y="404.91" width="5.00" height="5.00" fill="#fff" stroke="#333" stroke-width="0.9"/>
<rect x="662.80" y="404.91" width="5.00" height="5.00" fill="#fff" stroke="#333" stroke-width="0.9"/>
<rect x="674.94" y="381.92" width="5.00" height="5.00" fill="#fff" stroke="#333" stroke-width="0.9"/>
</svg>
</body></html>
